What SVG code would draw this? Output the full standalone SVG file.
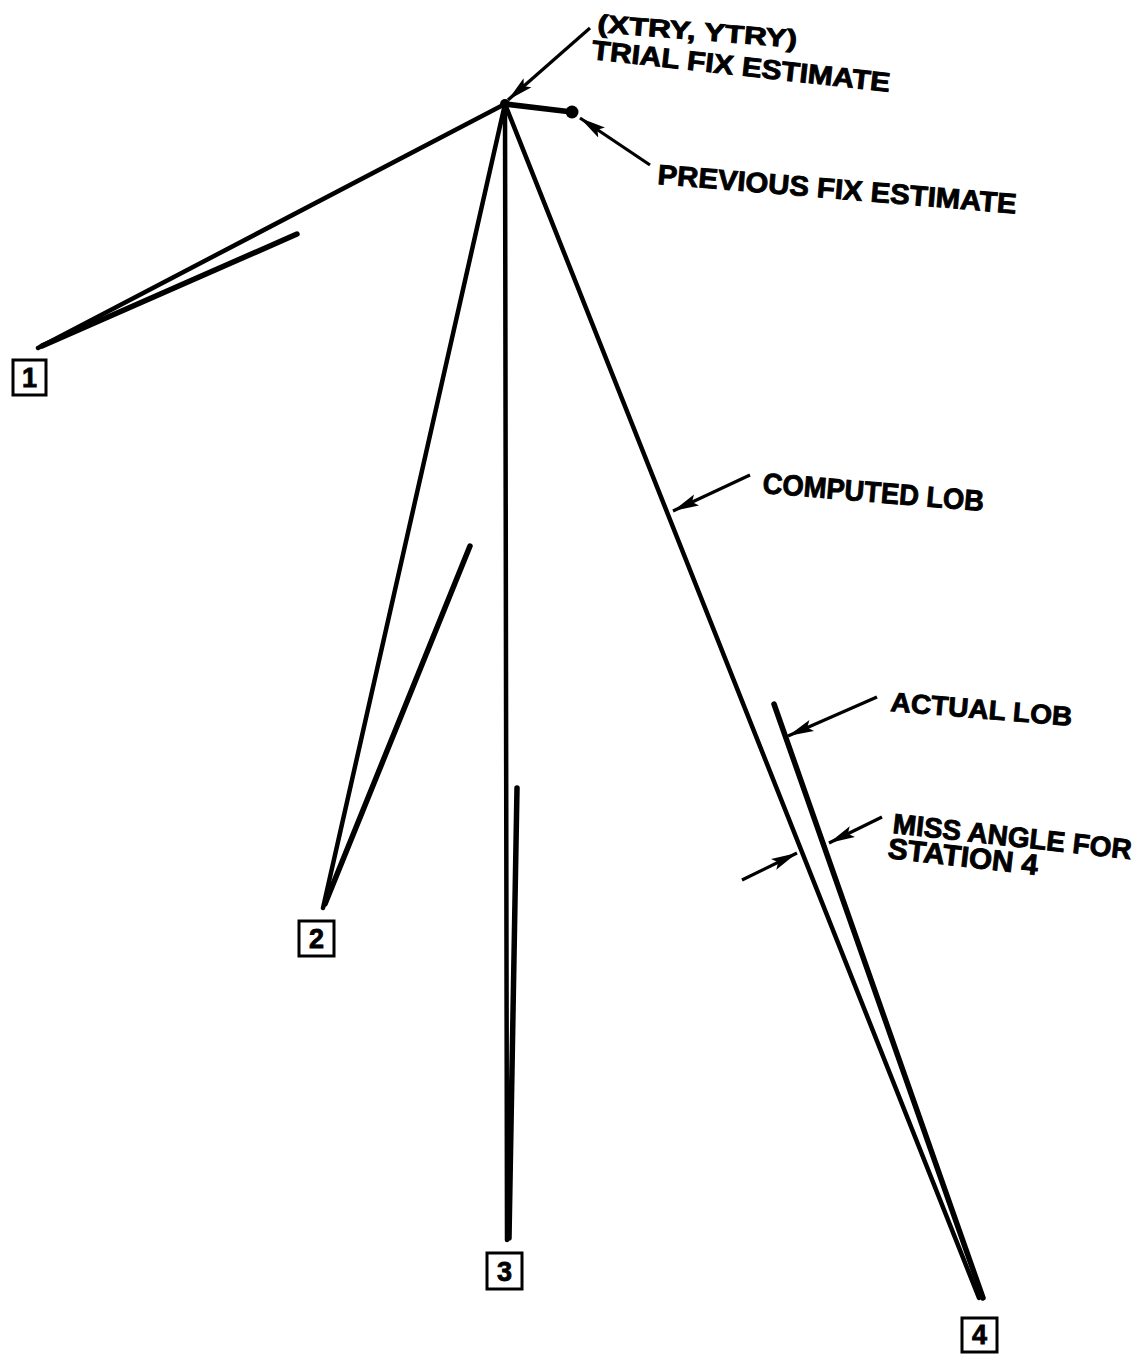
<svg xmlns="http://www.w3.org/2000/svg" width="1142" height="1356" viewBox="0 0 1142 1356">
<style>
.lob{stroke:#000;stroke-width:4.5;stroke-linecap:round;fill:none}
.act{stroke:#000;stroke-width:5.5;stroke-linecap:round;fill:none}
.ldr{stroke:#000;stroke-width:3.2;fill:none}
.box{fill:#fff;stroke:#000;stroke-width:3}
.lbl{font-family:"Liberation Sans",Arial,sans-serif;font-weight:bold;fill:#000;stroke:#000;stroke-width:0.9}
.num{font-family:"Liberation Sans",Arial,sans-serif;font-weight:bold;font-size:27px;fill:#000;stroke:#000;stroke-width:0.8;text-anchor:middle}
</style>
<defs>
<marker id="ah" markerUnits="userSpaceOnUse" markerWidth="28" markerHeight="14" refX="26" refY="7" orient="auto">
<path d="M0,1 L26,7 L0,13 L5,7 Z" fill="#000"/>
</marker>
</defs>
<rect width="1142" height="1356" fill="#fff"/>
<g id="connectors">
<line class="lob" x1="505" y1="104" x2="38" y2="348"/>
<line class="act" x1="297" y1="234" x2="42" y2="346"/>
<line class="lob" x1="505" y1="104" x2="323" y2="908"/>
<line class="act" x1="470" y1="546" x2="325" y2="904"/>
<line class="lob" x1="505" y1="104" x2="507" y2="1240"/>
<line class="act" x1="517" y1="788" x2="509" y2="1238"/>
<line class="lob" x1="505" y1="104" x2="979" y2="1298"/>
<line class="act" x1="774" y1="704" x2="983" y2="1298"/>
<line class="act" x1="505" y1="104" x2="572" y2="112"/>
<line class="ldr" x1="590" y1="28" x2="508" y2="100" marker-end="url(#ah)"/>
<line class="ldr" x1="650" y1="165" x2="580" y2="118" marker-end="url(#ah)"/>
<line class="ldr" x1="750" y1="475" x2="673" y2="511" marker-end="url(#ah)"/>
<line class="ldr" x1="877" y1="697" x2="788" y2="736" marker-end="url(#ah)"/>
<line class="ldr" x1="882" y1="817" x2="829" y2="843" marker-end="url(#ah)"/>
<line class="ldr" x1="742" y1="880" x2="797" y2="853" marker-end="url(#ah)"/>
</g>
<g id="trial-fix">
<circle cx="505" cy="104" r="5" fill="#000"/>
<text class="lbl" font-size="25" x="597" y="32" transform="rotate(4.5 597 32)" textLength="200" lengthAdjust="spacingAndGlyphs">(XTRY, YTRY)</text>
<text class="lbl" font-size="27" x="591" y="59" transform="rotate(6.3 591 59)" textLength="300" lengthAdjust="spacingAndGlyphs">TRIAL FIX ESTIMATE</text>
</g>
<g id="previous-fix">
<circle cx="572" cy="112" r="6.5" fill="#000"/>
<text class="lbl" font-size="28" x="657" y="184" transform="rotate(4.7 657 184)" textLength="360" lengthAdjust="spacingAndGlyphs">PREVIOUS FIX ESTIMATE</text>
</g>
<g id="computed-lob-label">
<text class="lbl" font-size="29" x="762" y="493" transform="rotate(4.7 762 493)" textLength="222" lengthAdjust="spacingAndGlyphs">COMPUTED LOB</text>
</g>
<g id="actual-lob-label">
<text class="lbl" font-size="27" x="890" y="711" transform="rotate(4.7 890 711)" textLength="182" lengthAdjust="spacingAndGlyphs">ACTUAL LOB</text>
</g>
<g id="miss-angle-label">
<text class="lbl" font-size="28" x="892" y="833" transform="rotate(6.3 892 833)" textLength="240" lengthAdjust="spacingAndGlyphs">MISS ANGLE FOR</text>
<text class="lbl" font-size="29" x="887" y="858" transform="rotate(6.5 887 858)" textLength="151" lengthAdjust="spacingAndGlyphs">STATION 4</text>
</g>
<g id="station-1">
<rect class="box" x="13" y="360" width="33" height="35"/>
<text class="num" x="29.5" y="387">1</text>
</g>
<g id="station-2">
<rect class="box" x="299" y="921" width="35" height="35"/>
<text class="num" x="316.5" y="948">2</text>
</g>
<g id="station-3">
<rect class="box" x="487" y="1253" width="35" height="36"/>
<text class="num" x="504.5" y="1281">3</text>
</g>
<g id="station-4">
<rect class="box" x="962" y="1318" width="35" height="34"/>
<text class="num" x="979.5" y="1344">4</text>
</g>
</svg>
